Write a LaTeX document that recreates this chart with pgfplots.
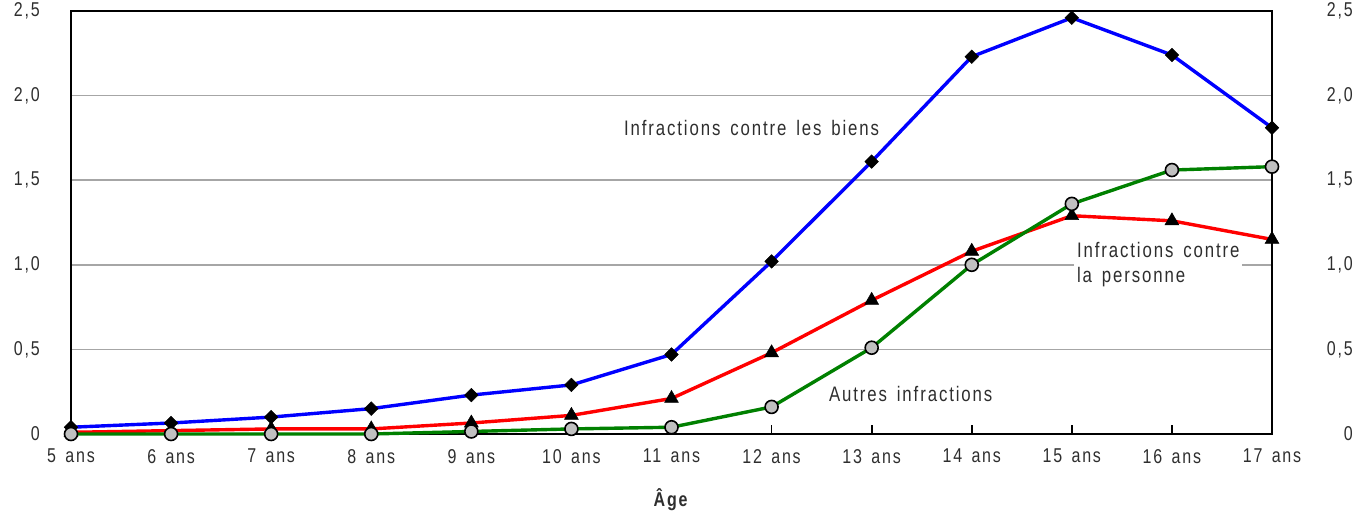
\documentclass[border=0pt]{standalone}
\usepackage{fontspec}
\setmainfont{Liberation Sans}[FakeStretch=0.8,LetterSpace=9,WordSpace=1.5]
\usepackage{pgfplots}
\pgfplotsset{compat=1.18}
\definecolor{txt}{HTML}{2E2E2E}
\definecolor{gridc}{HTML}{A6A6A6}
\definecolor{mblue}{HTML}{0000FF}
\definecolor{mred}{HTML}{FF0000}
\definecolor{mgreen}{HTML}{008000}
\definecolor{mgray}{HTML}{C0C0C0}
\begin{document}
\begin{tikzpicture}
\begin{axis}[name=ax,
  scale only axis, width=1201pt, height=423pt,
  xmin=5, xmax=17, ymin=0, ymax=2.5,
  clip=false,
  axis line style={line width=2.6pt, black},
  xtick={5,...,17},
  xticklabels={5 ans,6 ans,7 ans,8 ans,9 ans,10 ans,11 ans,12 ans,13 ans,14 ans,15 ans,16 ans,17 ans},
  ytick={0,0.5,1,1.5,2,2.5},
  yticklabels={0,{0,5},{1,0},{1,5},{2,0},{2,5}},
  ymajorgrids, grid style={gridc, line width=1.8pt},
  ytick style={draw=none},
  xtick style={line width=1.8pt, black},
  major tick length=9pt, tick align=inside,
  xtick pos=bottom, ytick pos=left,
  tick label style={text=txt, inner sep=0pt, font=\fontsize{20}{22}\selectfont},
  yticklabel style={xshift=-31pt},
  xticklabel style={yshift=-15pt, anchor=north},
  xlabel={\textbf{Âge}},
  xlabel style={text=txt, font=\fontsize{20}{22}\selectfont, yshift=-22pt},
]
\addplot[mblue, line width=3.4pt, mark=square*, mark size=4.8pt, mark options={black, fill=black, line width=0.5pt, rotate=45}] coordinates {
(5,0.04) (6,0.065) (7,0.10) (8,0.15) (9,0.23) (10,0.29) (11,0.47) (12,1.02) (13,1.61) (14,2.23) (15,2.46) (16,2.24) (17,1.81)};
\addplot[mred, line width=3.4pt, mark=triangle*, mark size=8pt, mark options={black, fill=black, line width=0.5pt}] coordinates {
(5,0.01) (6,0.02) (7,0.03) (8,0.03) (9,0.065) (10,0.11) (11,0.21) (12,0.48) (13,0.79) (14,1.08) (15,1.29) (16,1.26) (17,1.15)};
\addplot[mgreen, line width=3.4pt, mark=*, mark size=6.5pt, mark options={black, fill=mgray, line width=1.6pt}] coordinates {
(5,0.0) (6,0.0) (7,0.0) (8,0.0) (9,0.015) (10,0.03) (11,0.04) (12,0.16) (13,0.51) (14,1.0) (15,1.36) (16,1.56) (17,1.58)};
\node[text=txt, font=\fontsize{21}{25}\selectfont] at (axis cs:11.8,1.81) {Infractions contre les biens};
\node[text=txt, font=\fontsize{21}{25}\selectfont, anchor=west, fill=white, align=left, inner sep=3pt] at (axis cs:15.02,1.0) {Infractions contre\\la personne};
\node[text=txt, font=\fontsize{21}{25}\selectfont] at (axis cs:13.39,0.236) {Autres infractions};
\end{axis}
\begin{axis}[
  scale only axis, width=1201pt, height=423pt,
  xmin=5, xmax=17, ymin=0, ymax=2.5,
  axis x line=none, axis y line*=right,
  axis line style={draw=none},
  ytick={0,0.5,1,1.5,2,2.5},
  yticklabels={0,{0,5},{1,0},{1,5},{2,0},{2,5}},
  ytick style={draw=none},
  yticklabel style={text=txt, inner sep=0pt, anchor=east, xshift=81pt, font=\fontsize{20}{22}\selectfont},
]
\addplot[draw=none] coordinates {(5,0) (17,2.5)};
\end{axis}
\path (ax.south west) ++(-71pt,-88pt) rectangle ++(1370pt,522pt);
\end{tikzpicture}
\end{document}
